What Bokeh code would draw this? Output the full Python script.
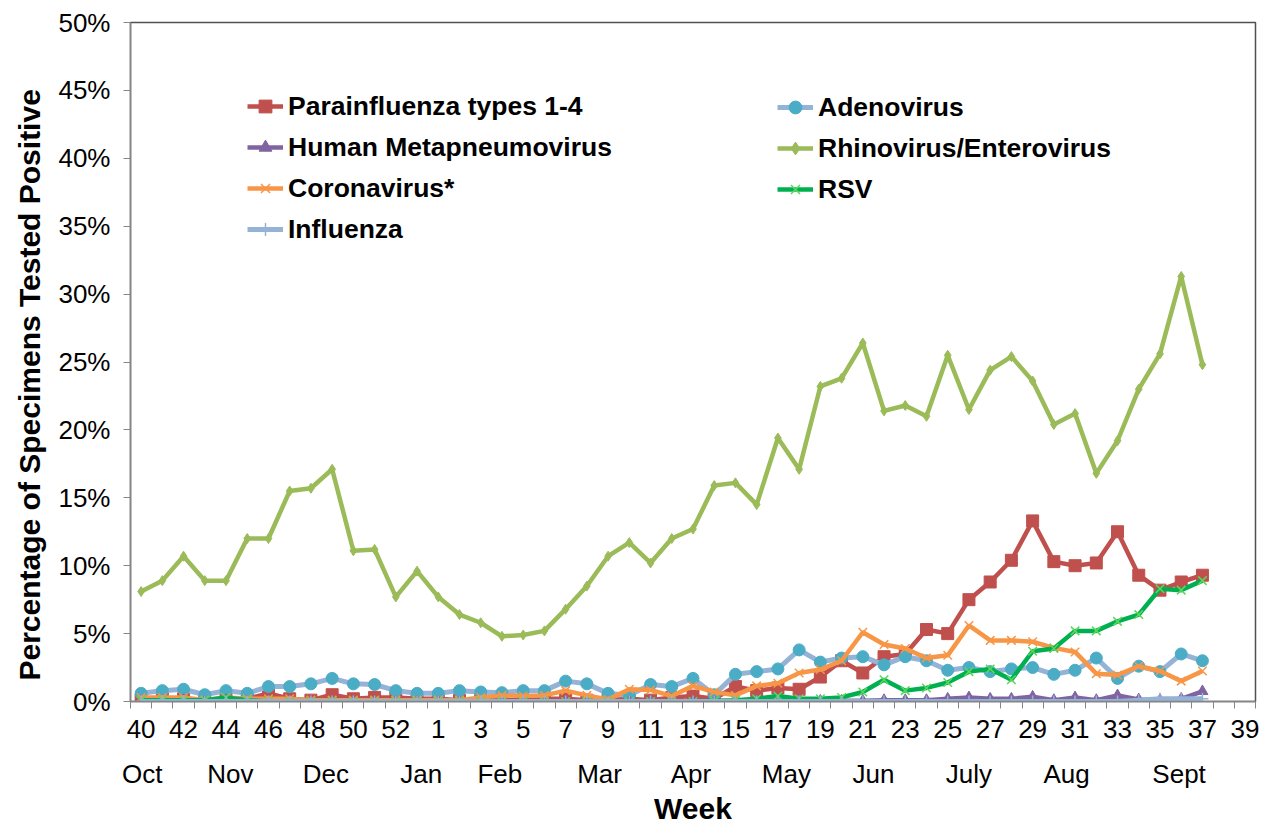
from bokeh.plotting import figure
from bokeh.models import (Range1d, LinearAxis, FixedTicker, PrintfTickFormatter,
                          Legend, LegendItem, Title)
from bokeh.embed import file_html
from bokeh.resources import INLINE

# ---------------- data ----------------
axis_weeks = [40, 41, 42, 43, 44, 45, 46, 47, 48, 49, 50, 51, 52, 53,
              1, 2, 3, 4, 5, 6, 7, 8, 9, 10, 11, 12, 13, 14, 15, 16, 17, 18, 19, 20,
              21, 22, 23, 24, 25, 26, 27, 28, 29, 30, 31, 32, 33, 34, 35, 36, 37, 38, 39]
months = ["Oct", "Nov", "Dec", "Jan", "Feb", "Mar", "Apr", "May", "Jun", "July", "Aug", "Sept"]

parainfluenza = [0.1, 0.2, 0.2, 0.1, 0.2, 0.2, 0.6, 0.2, 0.1, 0.5, 0.2, 0.3, 0.3, 0.2,
                 0.2, 0.1, 0.2, 0.1, 0.1, 0.2, 0.2, 0.1, 0.1, 0.2, 0.1, 0.3, 0.4, 0.2, 1.1,
                 0.8, 1.0, 0.9, 1.8, 3.0, 2.1, 3.3, 3.5, 5.3, 5.0, 7.5, 8.8, 10.4, 13.3,
                 10.3, 10.0, 10.2, 12.5, 9.3, 8.2, 8.8, 9.3]
adenovirus = [0.6, 0.8, 0.9, 0.5, 0.8, 0.6, 1.1, 1.1, 1.3, 1.7, 1.3, 1.25, 0.8, 0.6,
              0.6, 0.8, 0.7, 0.65, 0.8, 0.8, 1.5, 1.3, 0.6, 0.45, 1.25, 1.1, 1.7, 0.5, 2.0,
              2.2, 2.4, 3.8, 2.9, 3.2, 3.3, 2.7, 3.3, 3.0, 2.3, 2.5, 2.2, 2.4, 2.5, 2.0,
              2.3, 3.2, 1.7, 2.6, 2.2, 3.5, 3.0]
hmpv = [0.0, 0.0, 0.1, 0.0, 0.1, 0.0, 0.0, 0.0, 0.0, 0.0, 0.0, 0.0, 0.0, 0.0,
        0.0, 0.0, 0.0, 0.0, 0.0, 0.0, 0.0, 0.0, 0.0, 0.0, 0.0, 0.0, 0.0, 0.0, 0.0,
        0.05, 0.05, 0.05, 0.05, 0.05, 0.05, 0.1, 0.1, 0.1, 0.2, 0.3, 0.2, 0.2, 0.35,
        0.1, 0.3, 0.1, 0.45, 0.15, 0.1, 0.2, 0.75]
rhino = [8.1, 8.9, 10.7, 8.9, 8.9, 12.0, 12.0, 15.5, 15.7, 17.1, 11.1, 11.2, 7.7, 9.6,
         7.7, 6.4, 5.8, 4.8, 4.9, 5.2, 6.8, 8.5, 10.7, 11.7, 10.2, 12.0, 12.7, 15.9, 16.1,
         14.5, 19.4, 17.1, 23.2, 23.8, 26.4, 21.4, 21.8, 21.0, 25.5, 21.5, 24.4, 25.4,
         23.6, 20.4, 21.2, 16.8, 19.2, 23.0, 25.6, 31.3, 24.8]
corona = [0.3, 0.3, 0.3, 0.1, 0.3, 0.2, 0.2, 0.2, 0.1, 0.1, 0.1, 0.1, 0.1, 0.1,
          0.1, 0.1, 0.3, 0.45, 0.4, 0.45, 0.8, 0.45, 0.15, 0.9, 0.85, 0.4, 1.15, 0.7, 0.45,
          1.15, 1.35, 2.1, 2.35, 3.0, 5.1, 4.2, 3.9, 3.2, 3.4, 5.6, 4.5, 4.5, 4.4, 3.95,
          3.65, 2.05, 1.95, 2.6, 2.25, 1.5, 2.25]
rsv = [0.1, 0.1, 0.1, 0.1, 0.3, 0.1, 0.0, 0.0, 0.0, 0.0, 0.0, 0.0, 0.0, 0.0,
       0.0, 0.0, 0.0, 0.0, 0.0, 0.0, 0.0, 0.0, 0.0, 0.0, 0.0, 0.0, 0.0, 0.05, 0.1,
       0.2, 0.4, 0.2, 0.2, 0.3, 0.7, 1.6, 0.8, 1.0, 1.4, 2.2, 2.4, 1.6, 3.7, 3.9,
       5.2, 5.2, 5.9, 6.4, 8.3, 8.2, 8.9]
influenza = [0.0, 0.0, 0.0, 0.0, 0.0, 0.0, 0.0, 0.0, 0.0, 0.0, 0.0, 0.0, 0.0, 0.0,
             0.0, 0.0, 0.0, 0.0, 0.0, 0.0, 0.0, 0.0, 0.0, 0.0, 0.0, 0.0, 0.0, 0.0, 0.0,
             0.0, 0.0, 0.0, 0.0, 0.0, 0.0, 0.0, 0.0, 0.0, 0.0, 0.0, 0.0, 0.0, 0.0, 0.0,
             0.0, 0.0, 0.0, 0.1, 0.2, 0.2, 0.2]

# ---------------- layout ----------------
FONT = "Liberation Sans"
AXIS_GREY = "#868686"
month_pos = [0.05, 4.2, 8.7, 13.2, 16.9, 21.6, 25.9, 30.4, 34.5, 39.0, 43.6, 48.9]

n_cat = len(axis_weeks)
x = list(range(len(rhino)))

p = figure(width=1262, height=829, output_backend="svg", toolbar_location=None,
           x_range=Range1d(-0.5, n_cat - 0.5), y_range=Range1d(0, 50),
           min_border_left=130, min_border_right=7, min_border_top=22, min_border_bottom=128)
p.xgrid.visible = False
p.ygrid.visible = False
p.outline_line_color = "#505050"
p.outline_line_width = 1.5
p.background_fill_color = "white"
p.border_fill_color = "white"

# week axis
xa = p.xaxis[0]
label_idx = list(range(0, n_cat, 2))
xa.ticker = FixedTicker(ticks=label_idx, minor_ticks=[i - 0.5 for i in range(n_cat + 1)])
xa.major_label_overrides = {i: str(axis_weeks[i]) for i in label_idx}
xa.major_tick_in = 0
xa.major_tick_out = 0
xa.minor_tick_in = 0
xa.minor_tick_out = 7
xa.minor_tick_line_color = AXIS_GREY
xa.axis_line_color = AXIS_GREY
xa.axis_line_width = 1.5
xa.major_label_text_font = FONT
xa.major_label_text_font_size = "26px"
xa.major_label_text_color = "black"
xa.major_label_standoff = 11

# month axis
ma = LinearAxis(ticker=FixedTicker(ticks=month_pos),
                major_label_overrides={pos: m for pos, m in zip(month_pos, months)},
                axis_line_color=None, major_tick_line_color=None, minor_tick_line_color=None,
                major_label_text_font=FONT, major_label_text_font_size="26px",
                major_label_text_color="black", major_label_standoff=12,
                axis_label="Week", axis_label_text_font=FONT, axis_label_text_font_size="30px",
                axis_label_text_font_style="bold", axis_label_text_color="black",
                axis_label_standoff=0)
p.add_layout(ma, "below")

# y axis (ticks)
ya = p.yaxis[0]
ya.ticker = FixedTicker(ticks=list(range(0, 51, 5)))
ya.formatter = PrintfTickFormatter(format="%d%%")
ya.major_tick_in = 0
ya.major_tick_out = 7
ya.minor_tick_line_color = None
ya.major_tick_line_color = AXIS_GREY
ya.axis_line_color = AXIS_GREY
ya.axis_line_width = 1.5
ya.major_label_text_font = FONT
ya.major_label_text_font_size = "26px"
ya.major_label_text_color = "black"
ya.major_label_standoff = 13

# y axis title (slightly below the axis centre, as in the original)
yt = Title(text="Percentage of Specimens Tested Positive", align="left", offset=21,
           text_font=FONT, text_font_size="30px", text_font_style="bold",
           text_color="black", standoff=20)
p.add_layout(yt, "left")

# ---------------- series ----------------
def series(y, line_color, marker, size, fill, mline, mlw=1.0, lw=4.5):
    lr = p.line(x, y, line_color=line_color, line_width=lw)
    sr = p.scatter(x, y, marker=marker, size=size, fill_color=fill, line_color=mline,
                   line_width=mlw)
    return [lr, sr]

r_para = series(parainfluenza, "#C0504D", "square", 12, "#C0504D", "#C0504D")
r_adeno = series(adenovirus, "#95B3D7", "circle", 12, "#4BACC6", "#4BACC6", lw=5)
r_hmpv = series(hmpv, "#8064A2", "triangle", 11, "#8064A2", "#8064A2")
r_rhino = series(rhino, "#9BBB59", "diamond", 10, "#9BBB59", "#9BBB59")
r_corona = series(corona, "#F79646", "x", 12, None, "#F79646", mlw=1.5)
r_rsv = series(rsv, "#00B050", "x", 12, None, "#5CD65C", mlw=1.5)
r_flu = series(influenza, "#95B3D7", "cross", 12, None, "#95B3D7", mlw=1.5, lw=5)

def make_legend(items, loc):
    return Legend(items=items, location=loc, orientation="vertical",
                  label_text_font=FONT, label_text_font_style="bold",
                  label_text_font_size="26.5px", label_text_color="black",
                  glyph_width=36, glyph_height=32, label_height=32, spacing=9,
                  label_standoff=5, padding=0, margin=0,
                  border_line_color=None, background_fill_alpha=0)

leg1 = make_legend([LegendItem(label="Parainfluenza types 1-4", renderers=r_para),
                    LegendItem(label="Human Metapneumovirus", renderers=r_hmpv),
                    LegendItem(label="Coronavirus*", renderers=r_corona),
                    LegendItem(label="Influenza", renderers=r_flu)], (117, 456))
leg2 = make_legend([LegendItem(label="Adenovirus", renderers=r_adeno),
                    LegendItem(label="Rhinovirus/Enterovirus", renderers=r_rhino),
                    LegendItem(label="RSV", renderers=r_rsv)], (647, 496))
p.add_layout(leg1, "center")
p.add_layout(leg2, "center")

open("out.html", "w").write(file_html(p, INLINE))
